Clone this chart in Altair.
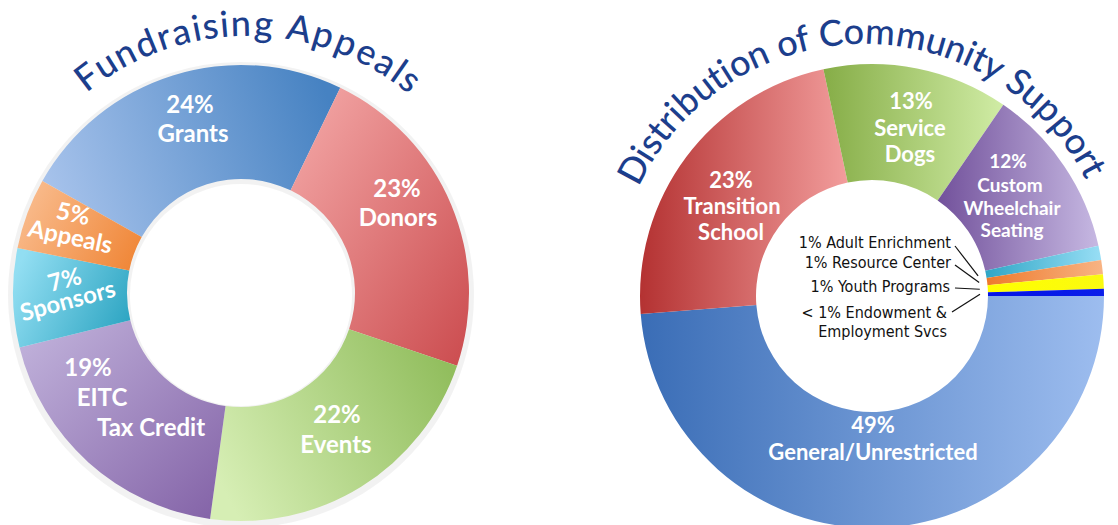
import math
import altair as alt
import pandas as pd

# ---------------- data ----------------
left_title = "Fundraising Appeals"
left_names = ["Grants", "Donors", "Events", "EITC Tax Credit", "Sponsors", "Appeals"]
left_values = [24, 23, 22, 19, 7, 5]
left_label_lines = [["24%", "Grants"], ["23%", "Donors"], ["22%", "Events"],
                    ["19%", "EITC", "Tax Credit"], ["7%", "Sponsors"], ["5%", "Appeals"]]

right_title = "Distribution of Community Support"
right_names = ["General/Unrestricted", "Transition School", "Service Dogs",
               "Custom Wheelchair Seating", "Adult Enrichment", "Resource Center",
               "Youth Programs", "Endowment & Employment Svcs"]
right_values = [49, 23, 13, 12, 1, 1, 1, 0.5]
right_label_lines = [["49%", "General/Unrestricted"], ["23%", "Transition", "School"],
                     ["13%", "Service", "Dogs"], ["12%", "Custom", "Wheelchair", "Seating"]]
small_label_lines = [["1% Adult Enrichment"], ["1% Resource Center"], ["1% Youth Programs"],
                     ["< 1% Endowment &", "Employment Svcs"]]

# ---------------- layout / style ----------------
W, H = 1118, 525
L_CX, L_CY, L_RO, L_RI = 241, 293, 228, 114
R_CX, R_CY, R_RO, R_RI = 872, 296, 232, 116
L_START = math.radians(299.4)
R_START = math.radians(90.0)
TITLE_COLOR = "#1C3E8C"
LABEL_FONT = "Lato"
TITLE_FONT = "Lato"
SMALL_FONT = "DejaVu Sans Condensed, Liberation Sans Narrow, Roboto Condensed, Roboto, sans-serif"

left_grads = [
    ("#A6C2EB", "#4682C2", 0, 0.6, 1, 0.4),
    ("#F5ABAA", "#CB4B4E", 0, 0, 1, 1),
    ("#D6EEB4", "#92BE5E", 0, 0.7, 1, 0.3),
    ("#C3B5DD", "#8261A6", 0, 0, 1, 1),
    ("#92DEF2", "#2FA6C3", 0, 0.3, 1, 0.7),
    ("#F9BC8E", "#F0883A", 0, 0.3, 1, 0.7),
]
right_grads = [
    ("#3A6DB6", "#9DBDEF", 0, 0.5, 1, 0.5),
    ("#B43232", "#F29D9C", 0, 0.5, 1, 0.5),
    ("#86AD47", "#D0ECA5", 0, 0.5, 1, 0.5),
    ("#72519B", "#C6B8E2", 0, 0.5, 1, 0.5),
    ("#2FA6C6", "#98DEF5", 0, 0.5, 1, 0.5),
    ("#EE7A2C", "#F8B484", 0, 0.5, 1, 0.5),
    ("#FFFF00", "#FAFA10", 0, 0.5, 1, 0.5),
    ("#0414E6", "#0A1EEA", 0, 0.5, 1, 0.5),
]


def grad(c1, c2, x1, y1, x2, y2):
    return alt.LinearGradient(
        gradient="linear",
        stops=[alt.GradientStop(color=c1, offset=0), alt.GradientStop(color=c2, offset=1)],
        x1=x1, y1=y1, x2=x2, y2=y2)


def donut_frame(names, values):
    df = pd.DataFrame({"name": names, "value": values})
    df["end"] = df["value"].cumsum()
    df["start"] = df["end"] - df["value"]
    return df


left_df = donut_frame(left_names, left_values)
right_df = donut_frame(right_names, right_values)


def arc_layers(df, cx, cy, ro, ri, start, grads):
    total = float(df["value"].sum())
    layers = []
    for name, g in zip(df["name"], grads):
        layers.append(
            alt.Chart(df)
            .transform_filter(alt.datum.name == name)
            .mark_arc(innerRadius=ri, outerRadius=ro, fill=grad(*g), strokeWidth=0)
            .encode(
                theta=alt.Theta("start:Q", stack=None,
                                scale=alt.Scale(domain=[0, total], range=[start, start + 2 * math.pi])),
                theta2="end:Q",
                x=alt.value(cx), y=alt.value(cy),
            )
        )
    return layers


# ---------- curved titles: glyph advance table (em) ----------
ADV = {"F": .55, "u": .56, "n": .56, "d": .6, "r": .37, "a": .53, "i": .26, "s": .45,
       "g": .58, " ": .28, "A": .66, "p": .6, "e": .55, "l": .26, "D": .7, "t": .36,
       "b": .6, "o": .58, "f": .33, "C": .68, "m": .86, "y": .5, "S": .53}


def curved(text, cx, cy, r, a0, a1):
    w = [ADV.get(c, .55) for c in text]
    tot = sum(w)
    rows, acc = [], 0.0
    for c, wi in zip(text, w):
        mid = acc + wi / 2
        acc += wi
        if c == " ":
            continue
        th = a0 + (a1 - a0) * mid / tot
        rad = math.radians(th)
        rows.append({"ch": c, "x": cx + r * math.sin(rad), "y": cy - r * math.cos(rad),
                     "ang": th % 360})
    return rows


title_df = pd.DataFrame(curved(left_title, 247, 290, 254, -39.3, 39.8) +
                        curved(right_title, 864, 293, 249, -64.5, 63.0))

title_layer = alt.Chart(title_df).mark_text(
    font=TITLE_FONT, fontSize=36, fontWeight=500, color=TITLE_COLOR, align="center",
    baseline="alphabetic"
).encode(
    x=alt.X("x:Q", scale=None, axis=None), y=alt.Y("y:Q", scale=None, axis=None),
    text="ch:N", angle=alt.Angle("ang:Q", scale=None),
)

# ---------- slice labels (line anchors: x, y, rotation) ----------
left_pos = [[(190, 106, 0), (193, 135, 0)],
            [(397, 190, 0), (398, 219, 0)],
            [(337, 416, 0), (336, 446, 0)],
            [(88, 369, 0), (102, 399, 0), (151, 429, 0)],
            [(65, 281, 345), (68, 302, 345)],
            [(73, 215, 12), (70, 238, 12)]]
right_pos = [[(873, 426, 0), (873, 453, 0)],
             [(731, 181, 0), (732, 207, 0), (731, 233, 0)],
             [(911, 102, 0), (910, 129, 0), (910, 155, 0)],
             [(1008, 162, 0), (1010, 186, 0), (1012, 209, 0), (1012, 231, 0)]]
small_pos = [[(951, 243)], [(951, 263)], [(950, 287)], [(947, 313), (947, 332)]]

left_rows, right_rows, mid_rows = [], [], []
for lines, pos in zip(left_label_lines, left_pos):
    for t, (x, y, a) in zip(lines, pos):
        left_rows.append({"t": t, "x": x, "y": y, "a": a})
for i, (lines, pos) in enumerate(zip(right_label_lines, right_pos)):
    for t, (x, y, a) in zip(lines, pos):
        (mid_rows if i == 3 else right_rows).append({"t": t, "x": x, "y": y, "a": a})

small_rows = []
for lines, pos in zip(small_label_lines, small_pos):
    for t, (x, y) in zip(lines, pos):
        small_rows.append({"t": t, "x": x, "y": y})


def text_layer(rows, size, color, weight, align="center", font=LABEL_FONT):
    return alt.Chart(pd.DataFrame(rows)).mark_text(
        font=font, fontSize=size, fontWeight=weight, color=color, align=align, baseline="middle"
    ).encode(
        x=alt.X("x:Q", scale=None, axis=None), y=alt.Y("y:Q", scale=None, axis=None),
        text="t:N",
        **({"angle": alt.Angle("a:Q", scale=None)} if "a" in rows[0] else {}),
    )


left_layer = text_layer(left_rows, 24, "white", "bold")
right_layer = text_layer(right_rows, 22, "white", "bold")
mid_layer = text_layer(mid_rows, 19, "white", "bold")
small_layer = text_layer(small_rows, 16, "#111111", "normal", align="right", font=SMALL_FONT)

# ---------- leader lines from small labels to their slices ----------
r_total = float(right_df["value"].sum())
leader_rows = []
starts = [(955, 246), (955, 265), (955, 288), (952, 312)]
for k, (sx, sy) in zip(range(4, 8), starts):
    mid = (right_df["start"][k] + right_df["end"][k]) / 2
    th = R_START + 2 * math.pi * mid / r_total
    leader_rows.append({"x": sx, "y": sy,
                        "x2": R_CX + 108 * math.sin(th), "y2": R_CY - 108 * math.cos(th)})

leader_layer = alt.Chart(pd.DataFrame(leader_rows)).mark_rule(color="#111111", strokeWidth=1.2).encode(
    x=alt.X("x:Q", scale=None, axis=None), y=alt.Y("y:Q", scale=None, axis=None),
    x2="x2:Q", y2="y2:Q",
)

shadow = alt.Chart(left_df).mark_arc(innerRadius=L_RI - 3, outerRadius=L_RO + 5, fill="#000000",
                                     fillOpacity=0.05).encode(
    theta=alt.Theta("value:Q", stack=True), x=alt.value(L_CX), y=alt.value(L_CY + 2))

layers = ([shadow]
          + arc_layers(left_df, L_CX, L_CY, L_RO, L_RI, L_START, left_grads)
          + arc_layers(right_df, R_CX, R_CY, R_RO, R_RI, R_START, right_grads)
          + [title_layer, left_layer, right_layer, mid_layer, small_layer, leader_layer])

chart = alt.layer(*layers).resolve_scale(theta="independent").properties(
    width=W, height=H, padding=0, autosize="none", background="white"
).configure_view(stroke=None)

chart.save("out.html", embed_options={"renderer": "svg", "actions": False})
